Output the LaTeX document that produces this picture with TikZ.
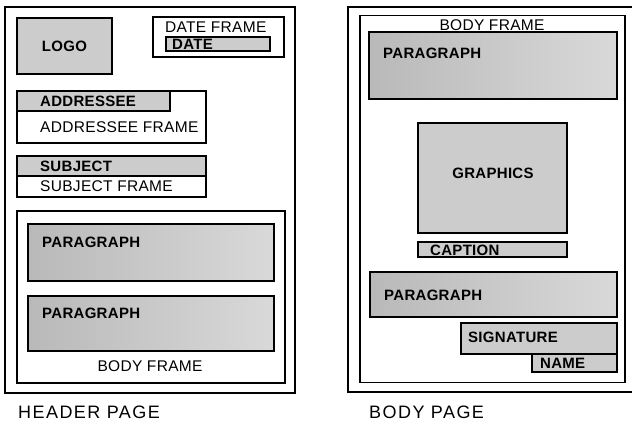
\documentclass[tikz,border=0pt]{standalone}
\usepackage{fontspec}
\setmainfont{Liberation Sans}[LetterSpace=2]
\newfontfamily\capfont{Liberation Sans}[LetterSpace=8]
\begin{document}
\begin{tikzpicture}[x=1pt,y=-1pt,
  page/.style={draw=black,line width=1.6pt,fill=none},
  frame/.style={draw=black,line width=1.1pt,fill=none,inner sep=0pt,outer sep=0pt,anchor=north west},
  shaded/.style={draw=black,line width=1.1pt,fill=gray!40,inner sep=0pt,outer sep=0pt,anchor=north west},
  para/.style={draw=black,line width=1.1pt,left color=gray!55,right color=gray!30,inner sep=0pt,outer sep=0pt,anchor=north west},
  lbl/.style={font=\fontsize{15.5}{16}\selectfont,inner sep=0pt,anchor=west},
  blbl/.style={font=\fontsize{15}{16}\selectfont\bfseries,inner sep=0pt,anchor=west},
  pagecap/.style={font=\capfont\fontsize{18}{19}\selectfont,inner sep=0pt,text depth=0pt,anchor=base west}]
\useasboundingbox (0,0) rectangle (632,422);
\fill[white] (0,0) rectangle (632,422);
% ---------------- HEADER PAGE ----------------
\node[frame,line width=1.6pt,minimum width=290pt,minimum height=386pt] (hpage) at (5,7) {};
\node[shaded,minimum width=95pt,minimum height=56pt] (logo) at (17,18) {};
\node[blbl,anchor=center] (logot) at (logo.center) {LOGO};
\node[frame,minimum width=131pt,minimum height=40pt] (dframe) at (153,17) {};
\node[lbl] (dframet) at (165,27) {DATE FRAME};
\node[shaded,minimum width=104pt,minimum height=14pt] (date) at (166,37) {};
\node[blbl] (datet) at (172,44) {DATE};
\node[frame,minimum width=189pt,minimum height=52pt] (aframe) at (17,91) {};
\node[shaded,minimum width=153pt,minimum height=20pt] (addr) at (17,91) {};
\node[blbl] (addrt) at (40,101) {ADDRESSEE};
\node[lbl] (aframet) at (40,127) {ADDRESSEE FRAME};
\node[shaded,minimum width=189pt,minimum height=20pt] (subj) at (17,156) {};
\node[frame,minimum width=189pt,minimum height=21pt] (sframe) at (17,176) {};
\node[blbl] (subjt) at (40,166) {SUBJECT};
\node[lbl] (sframet) at (40,186.5) {SUBJECT FRAME};
\node[frame,minimum width=268pt,minimum height=172pt] (hbody) at (17,211) {};
\node[para,minimum width=246pt,minimum height=57pt] (hp1) at (28,224) {};
\node[blbl] (hp1t) at (42,242) {PARAGRAPH};
\node[para,minimum width=246pt,minimum height=55pt] (hp2) at (28,296) {};
\node[blbl] (hp2t) at (42,313) {PARAGRAPH};
\node[lbl,anchor=center] (hbodyt) at (150,366) {BODY FRAME};
\node[pagecap] (hcap) at (18,418) {HEADER PAGE};
% ---------------- BODY PAGE ----------------
\coordinate (bp1) at (633,7);
\coordinate (bp2) at (348,7);
\coordinate (bp3) at (348,392);
\coordinate (bp4) at (633,392);
\draw[page] (bp1) -- (bp2) -- (bp3) -- (bp4);
\node[frame,minimum width=265pt,minimum height=367pt] (bbody) at (360,15.5) {};
\node[lbl,anchor=center] (bbodyt) at (492,25) {BODY FRAME};
\node[para,minimum width=248pt,minimum height=67pt] (bp1box) at (369,32) {};
\node[blbl] (bp1t) at (383,53) {PARAGRAPH};
\node[shaded,minimum width=149pt,minimum height=110pt] (gfx) at (418,123) {};
\node[blbl,anchor=center] (gfxt) at (493,173) {GRAPHICS};
\node[shaded,minimum width=149pt,minimum height=15pt] (capt) at (418,242) {};
\node[blbl] (captt) at (430,250) {CAPTION};
\node[para,minimum width=247pt,minimum height=45pt] (bp2box) at (370,272) {};
\node[blbl] (bp2t) at (384,295) {PARAGRAPH};
\node[shaded,minimum width=156pt,minimum height=31pt] (sig) at (461,323) {};
\node[blbl] (sigt) at (468,337) {SIGNATURE};
\node[shaded,minimum width=85pt,minimum height=18pt] (name) at (532,354) {};
\node[blbl] (namet) at (540,363) {NAME};
\node[pagecap] (bcap) at (369,418.5) {BODY PAGE};
\end{tikzpicture}
\end{document}
